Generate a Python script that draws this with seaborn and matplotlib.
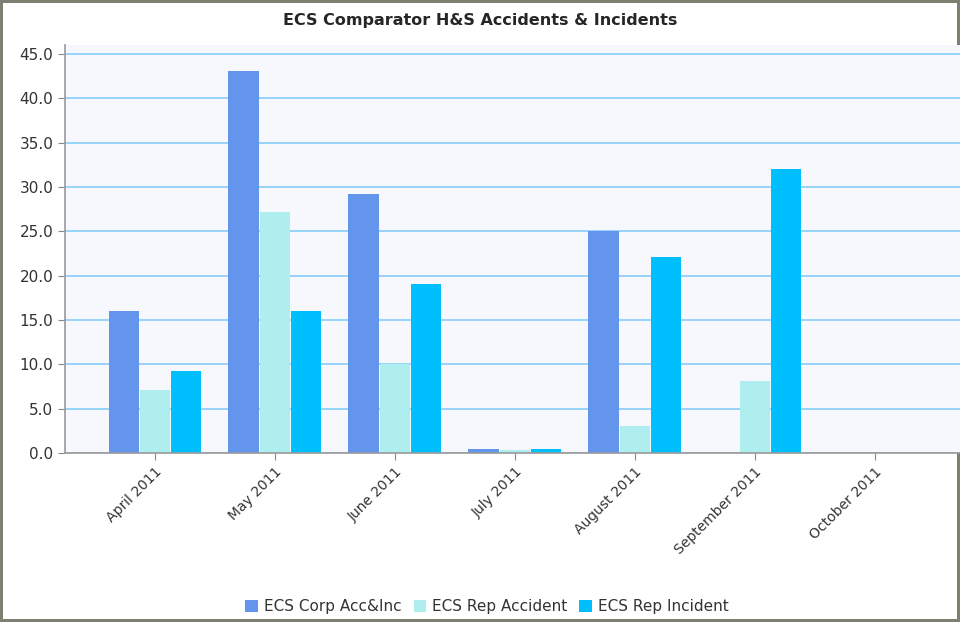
import pandas as pd
import seaborn as sns
import matplotlib.pyplot as plt

months = ['April 2011', 'May 2011', 'June 2011', 'July 2011',
          'August 2011', 'September 2011', 'October 2011']
corp = [16.0, 43.1, 29.2, 0.4, 25.0, 0.0, 0.0]
rep_accident = [7.1, 27.2, 10.0, 0.3, 3.0, 8.1, 0.0]
rep_incident = [9.2, 16.0, 19.0, 0.4, 22.1, 32.0, 0.0]
series = ['ECS Corp Acc&Inc', 'ECS Rep Accident', 'ECS Rep Incident']
colors = ['#6495ED', '#AFEEEE', '#00BFFF']

df = pd.DataFrame({'month': months * 3,
                   'value': corp + rep_accident + rep_incident,
                   'series': [s for s in series for _ in months]})

sns.set_style('white')
plt.rcParams['font.family'] = ['DejaVu Sans']

fig = plt.figure(figsize=(9.6, 6.22), dpi=100)
fig.patch.set_edgecolor('#7f7f72')
fig.patch.set_linewidth(4)
ax = fig.add_axes([65 / 960, 1 - 453 / 622, 895 / 960, 408 / 622])

sns.barplot(data=df, x='month', y='value', hue='series', order=months,
            hue_order=series, palette=colors, saturation=1, width=0.78,
            gap=0.02, linewidth=0, ax=ax)

ax.set_facecolor('#F7F8FE')
ax.set_xlim(-0.75, 6.71)
ax.set_ylim(0, 46)
ax.set_yticks([i * 5 for i in range(10)])
ax.set_yticklabels([f'{i * 5:.1f}' for i in range(10)], fontsize=11, color='#333333')
ax.yaxis.grid(True, color='#87CEFA', linewidth=1.2)
ax.set_axisbelow(True)
for s in ['top', 'right']:
    ax.spines[s].set_visible(False)
for s in ['left', 'bottom']:
    ax.spines[s].set_color('#999999')
    ax.spines[s].set_linewidth(1.2)
ax.tick_params(axis='both', length=5, color='#888888', left=True, bottom=True)
plt.setp(ax.get_xticklabels(), rotation=45, ha='right', rotation_mode='anchor',
         fontsize=10, color='#333333')
ax.set_xlabel('')
ax.set_ylabel('')

fig.text(0.5, 1 - 20 / 622, 'ECS Comparator H&S Accidents & Incidents',
         ha='center', va='center', fontsize=11.5, fontweight='bold')

ax.legend(loc='center', bbox_to_anchor=(487 / 960, 15 / 622),
          bbox_transform=fig.transFigure, ncol=3, frameon=False,
          fontsize=11, handlelength=0.8, handleheight=0.8,
          handletextpad=0.4, columnspacing=0.8)
for t in ax.get_legend().get_texts():
    t.set_color('#333333')

fig.savefig('out.png', dpi=100)
